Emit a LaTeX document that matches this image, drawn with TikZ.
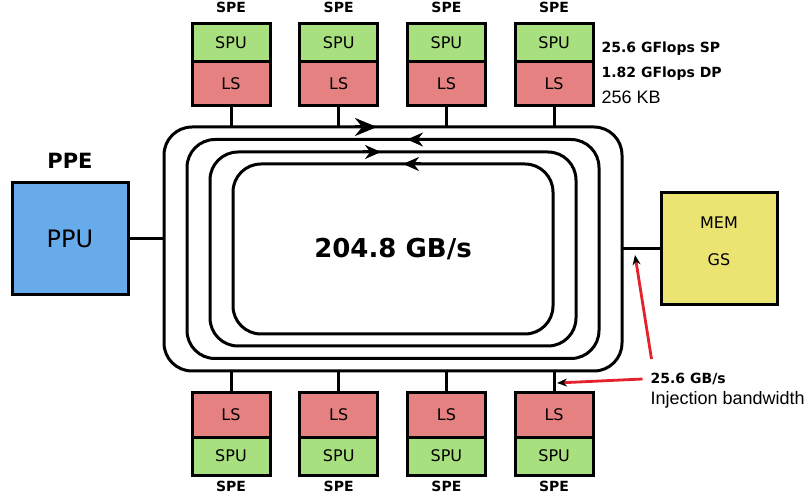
\documentclass[tikz,border=0pt]{standalone}
\usepackage{fontspec}
\setmainfont{DejaVu Sans}
\newfontfamily\arialfont{Liberation Sans}
\usetikzlibrary{arrows.meta,positioning}
\definecolor{spugreen}{HTML}{A9E07F}
\definecolor{lsred}{HTML}{E58181}
\definecolor{ppublue}{HTML}{67ABEA}
\definecolor{memyellow}{HTML}{EBE372}
\definecolor{tapred}{HTML}{E3222B}

\begin{document}
\begin{tikzpicture}[x=0.5pt,y=-0.5pt,line width=1.5pt,font=\fontsize{8}{10}\selectfont,
  unit/.style={draw,line width=1.5pt,fill=#1,minimum width=39pt,inner sep=0pt},
  spubox/.style={unit=spugreen,minimum height=19pt},
  lsbox/.style={unit=lsred,minimum height=22pt},
  big/.style={unit=#1,minimum width=58pt,minimum height=56pt},
  tag/.style={font=\bfseries\fontsize{7}{8}\selectfont},
  note/.style={anchor=west,font=\arialfont\fontsize{9}{11}\selectfont},
  ring/.style={draw,rounded corners=14pt,inner sep=0pt,outer sep=0pt,minimum width=#1},
  tap/.style={draw=tapred,line width=1.4pt,-{Stealth[length=5pt,width=4pt,color=black]}}]
  \useasboundingbox (0,0) rectangle (809,497);
  % the four rings of the element interconnect bus
  \foreach \k/\w/\h in {1/229pt/122pt,2/206pt/109.5pt,3/183pt/97pt,4/160pt/85pt}
    \node[ring=\w,minimum height=\h] (ring\k) at (393,249) {};
  \draw[-{Stealth[length=11pt,width=9pt]}] ([xshift=-19pt]ring1.north) -- ([xshift=-8pt]ring1.north);
  \draw[-{Stealth[length=8pt,width=7pt]}] ([xshift=17pt]ring2.north) -- ([xshift=7pt]ring2.north);
  \draw[-{Stealth[length=8pt,width=7pt]}] ([xshift=-15pt]ring3.north) -- ([xshift=-6pt]ring3.north);
  \draw[-{Stealth[length=8pt,width=7pt]}] ([xshift=14pt]ring4.north) -- ([xshift=5pt]ring4.north);
  \node[font=\bfseries\fontsize{13}{15}\selectfont] (rate) at (ring4.center) {204.8 GB/s};
  % SPEs above and below
  \foreach \i in {1,...,4}{
    \node[spubox] (tspu\i) at (123.3+107.7*\i,43) {SPU};
    \node[lsbox,below=-1.5pt of tspu\i] (tls\i) {LS};
    \node[tag,above=1pt of tspu\i] (tspe\i) {SPE};
    \draw (tls\i.south) -- (tls\i.south |- ring1.north);
    \node[lsbox] (bls\i) at (123.3+107.7*\i,415) {LS};
    \node[spubox,below=-1.5pt of bls\i] (bspu\i) {SPU};
    \node[tag,inner sep=1pt,below=0.5pt of bspu\i] (bspe\i) {SPE};
    \draw (bls\i.north) -- (bls\i.north |- ring1.south);
  }
  % PPE and memory
  \node[big=ppublue,font=\fontsize{12}{14}\selectfont] (ppu) at (70,239) {PPU};
  \node[font=\bfseries\fontsize{10.5}{12}\selectfont,above=2.5pt of ppu] (ppe) {PPE};
  \draw (ppu.east) -- (ppu.east -| ring1.west);
  \node[big=memyellow] (mem) at (719,249) {};
  \node (memname) at ([yshift=13pt]mem.center) {MEM};
  \node (gsname) at ([yshift=-5.5pt]mem.center) {GS};
  \draw (mem.west) -- (mem.west -| ring1.east);
  % figures
  \node[tag,anchor=west] (sp) at (593.5,49) {25.6 GFlops SP};
  \node[tag,anchor=west] (dp) at (593.5,74) {1.82 GFlops DP};
  \node[note] (kb) at (593.5,97.5) {256 KB};
  \node[tag,anchor=west] (bw) at (642.5,379) {25.6 GB/s};
  \node[note] (inj) at (642.5,400) {Injection bandwidth};
  \coordinate (memtap) at (635,255);
  \coordinate (spetap) at (557,383);
  \draw[tap] ([xshift=4.5pt,yshift=3pt]bw.north west) -- (memtap);
  \draw[tap] (bw.west) -- (spetap);
\end{tikzpicture}
\end{document}
